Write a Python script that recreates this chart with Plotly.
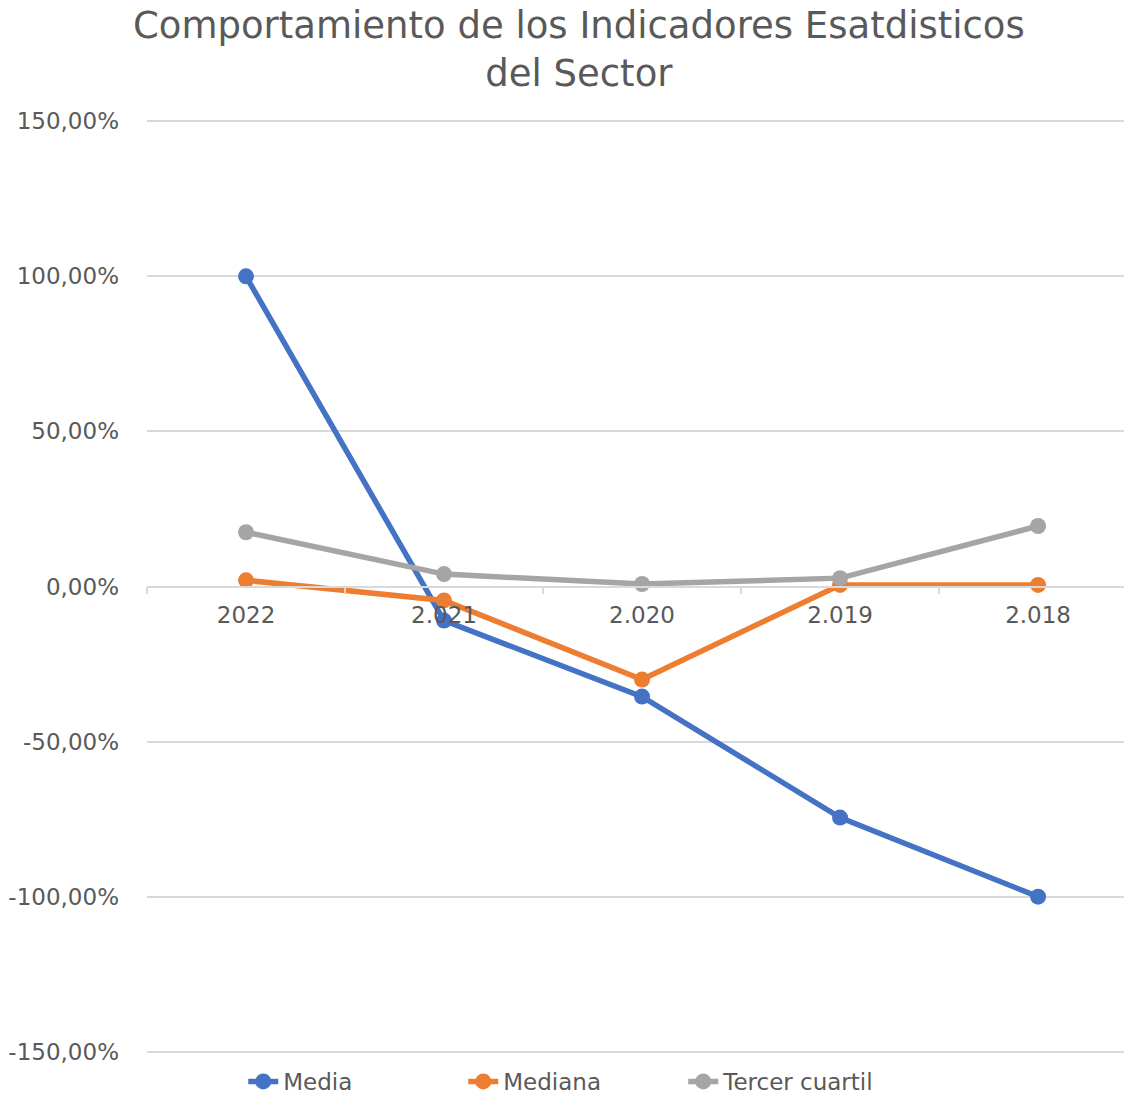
import plotly.graph_objects as go

# Categories (years) along the horizontal axis
years = ["2022", "2.021", "2.020", "2.019", "2.018"]

# Indicator values, in percent
media = [100.0, -11.0, -35.5, -74.5, -100.0]
mediana = [2.0, -4.5, -30.0, 0.5, 0.5]
tercer_cuartil = [17.5, 4.0, 0.8, 2.7, 19.5]

series_names = ["Media", "Mediana", "Tercer cuartil"]
series_colors = ["#4472C4", "#ED7D31", "#A5A5A5"]

# Value axis ticks
y_ticks = [150, 100, 50, 0, -50, -100, -150]
y_tick_labels = ["150,00%", "100,00%", "50,00%", "0,00%", "-50,00%", "-100,00%", "-150,00%"]

title_text = "Comportamiento de los Indicadores Esatdisticos<br>del Sector"

fig = go.Figure()
for name, values, color in zip(series_names, [media, mediana, tercer_cuartil], series_colors):
    fig.add_trace(go.Scatter(
        x=years, y=values, name=name, mode="lines+markers",
        line=dict(color=color, width=5.5),
        marker=dict(color=color, size=16),
    ))

grey_text = "#595959"
grid = "#D9D9D9"

fig.update_layout(
    width=1124, height=1103,
    margin=dict(l=147, r=0, t=120, b=50, autoexpand=False),
    paper_bgcolor="white", plot_bgcolor="white",
    title=dict(
        text=title_text, xref="container", x=0.515, xanchor="center",
        yref="container", y=0.966, yanchor="top",
        font=dict(family="DejaVu Sans", size=37, color=grey_text),
    ),
    showlegend=True,
    legend=dict(
        orientation="h", xref="container", x=0.51, xanchor="center",
        yref="container", y=-0.005, yanchor="bottom",
        font=dict(family="DejaVu Sans", size=23, color=grey_text),
        tracegroupgap=0, entrywidth=175,
    ),
    xaxis=dict(
        type="category", range=[-0.5, 4.434],
        anchor="free", position=0.5,
        showline=True, linecolor=grid, linewidth=1.5,
        ticks="outside", tickson="boundaries", ticklen=7, tickcolor=grid, tickwidth=1.5,
        showgrid=False, ticklabelstandoff=8,
        tickfont=dict(family="DejaVu Sans", size=23, color=grey_text),
    ),
    yaxis=dict(
        range=[-150.4, 150.4], domain=[0, 1],
        tickvals=y_ticks, ticktext=y_tick_labels,
        showgrid=True, gridcolor=grid, gridwidth=1.5,
        zeroline=False, showline=False, ticks="",
        ticklabelstandoff=27,
        tickfont=dict(family="DejaVu Sans", size=23, color=grey_text),
    ),
)

fig.write_html("out.html")
